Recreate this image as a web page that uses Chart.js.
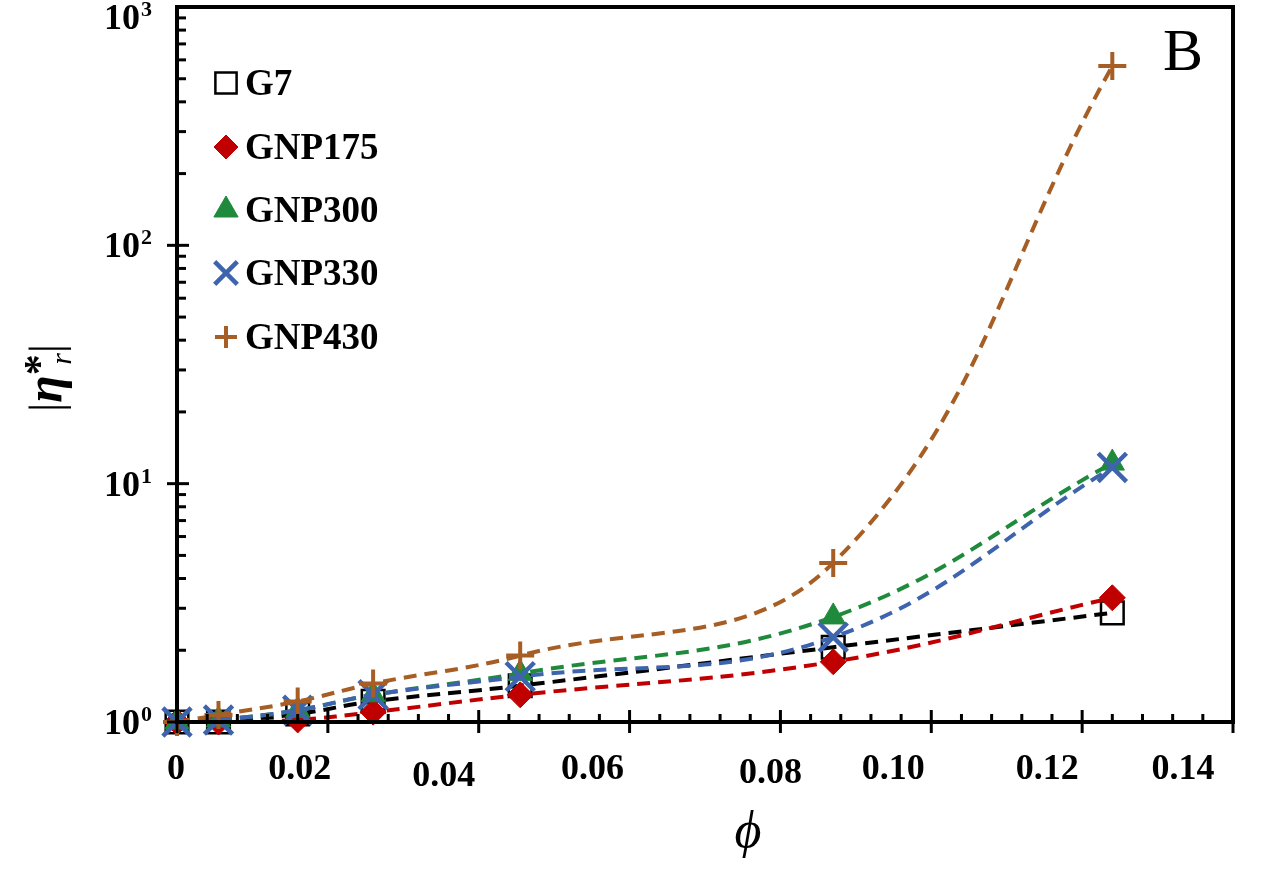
<!DOCTYPE html>
<html>
<head>
<meta charset="utf-8">
<script src="https://cdn.jsdelivr.net/npm/chart.js@4.4.0/dist/chart.umd.min.js"></script>
<style>
  html, body { margin: 0; padding: 0; background: #fff; }
  #wrap { width: 1272px; height: 875px; position: relative; }
</style>
</head>
<body>
<div id="wrap"><canvas id="viscChart"></canvas></div>
<script>
// filler volume fraction
const phi = [0, 0.0055, 0.016, 0.026, 0.0455, 0.087, 0.124];

// relative complex viscosity |eta*_r| for each sample
const g7     = [1.00, 1.00, 1.08, 1.22, 1.42, 2.06, 2.87];
const gnp175 = [1.00, 1.00, 1.02, 1.10, 1.30, 1.79, 3.32];
const gnp300 = [1.00, 1.02, 1.12, 1.30, 1.60, 2.76, 12.2];
const gnp330 = [1.00, 1.02, 1.12, 1.30, 1.55, 2.27, 11.7];
const gnp430 = [1.00, 1.07, 1.22, 1.45, 1.90, 4.65, 565];

const seriesNames = ['G7', 'GNP175', 'GNP300', 'GNP330', 'GNP430'];
const seriesValues = [g7, gnp175, gnp300, gnp330, gnp430];

const xTickValues = [0, 0.02, 0.04, 0.06, 0.08, 0.10, 0.12, 0.14];
const xTickLabels = ['0', '0.02', '0.04', '0.06', '0.08', '0.10', '0.12', '0.14'];
const yDecades = [0, 1, 2, 3];

// marker look per series (Excel style)
const looks = [
  { color: '#000000', style: 'rect',     r: 16, lr: 15, fill: 'rgba(0,0,0,0)', bw: 2.5 },
  { color: '#c00000', style: 'rectRot',  r: 13, lr: 12, fill: '#c00000', bw: 1 },
  { color: '#1f8a3c', style: 'triangle', r: 14, lr: 14, fill: '#1f8a3c', bw: 1 },
  { color: '#3d64ad', style: 'crossRot', r: 20, lr: 16, fill: '#3d64ad', bw: 4.5 },
  { color: '#a65e24', style: 'cross',    r: 14, lr: 11, fill: '#a65e24', bw: 4 }
];

// labels were hand-nudged in the original figure
const xLabelNudge = [[-1, 0], [-28, 0], [-35, 7], [-37, 0], [-10, 4], [-38, 0], [-35, 0], [-50, 0]];

const SERIF = '"Liberation Serif", "Times New Roman", serif';

const frame = {
  id: 'frame',
  afterDraw(chart) {
    const ctx = chart.ctx;
    const a = chart.chartArea;
    const x = chart.scales.x, y = chart.scales.y;
    ctx.save();
    ctx.strokeStyle = '#000';
    ctx.fillStyle = '#000';

    // box
    ctx.lineWidth = 4;
    ctx.strokeRect(a.left, a.top, a.right - a.left, a.bottom - a.top);

    // y ticks (inward, decades cross the axis)
    ctx.lineWidth = 3;
    for (let p = 0; p < 3; p++) {
      for (let m = 1; m < 10; m++) {
        const py = y.getPixelForValue(m * Math.pow(10, p));
        ctx.beginPath();
        if (m === 1) { ctx.moveTo(a.left - 10, py); ctx.lineTo(a.left + 12, py); }
        else { ctx.moveTo(a.left, py); ctx.lineTo(a.left + 9, py); }
        ctx.stroke();
      }
    }

    // x ticks every 0.004, major every 0.02
    for (let i = 0; i <= 35; i++) {
      const px = x.getPixelForValue(i * 0.004);
      ctx.beginPath();
      if (i % 5 === 0) { ctx.moveTo(px, a.bottom - 12); ctx.lineTo(px, a.bottom + 11); }
      else { ctx.moveTo(px, a.bottom - 8); ctx.lineTo(px, a.bottom); }
      ctx.stroke();
    }

    // x tick labels
    ctx.font = 'bold 36px ' + SERIF;
    ctx.textAlign = 'center';
    ctx.textBaseline = 'alphabetic';
    xTickValues.forEach((v, i) => {
      const n = xLabelNudge[i];
      ctx.fillText(xTickLabels[i], x.getPixelForValue(v) + n[0], a.bottom + 57 + n[1]);
    });

    // y tick labels 10^k
    yDecades.forEach(k => {
      let py = y.getPixelForValue(Math.pow(10, k));
      py = Math.max(py, a.top + 10);
      ctx.font = 'bold 36px ' + SERIF;
      ctx.textAlign = 'right';
      ctx.fillText('10', a.left - 37, py + 12);
      ctx.font = 'bold 22px ' + SERIF;
      ctx.textAlign = 'left';
      ctx.fillText(String(k), a.left - 36, py - 1);
    });

    // x title
    ctx.font = 'italic 52px ' + SERIF;
    ctx.textAlign = 'center';
    ctx.fillText('\u03D5', (a.left + a.right) / 2 + 43, a.bottom + 125);

    // panel letter
    ctx.font = '60px ' + SERIF;
    ctx.textAlign = 'left';
    ctx.fillText('B', a.right - 70, a.top + 63);

    // y title |eta*_r|, rotated
    ctx.save();
    ctx.translate(46, 378);
    ctx.rotate(-Math.PI / 2);
    const parts = [
      ['|', '46px ' + SERIF, 0],
      ['\u03B7', 'bold italic 50px ' + SERIF, 0],
      ['*', 'bold 42px ' + SERIF, -8],
      ['r', 'italic 30px ' + SERIF, 10],
      ['|', '46px ' + SERIF, 0]
    ];
    let total = 0;
    parts.forEach(pt => { ctx.font = pt[1]; pt.push(ctx.measureText(pt[0]).width); total += pt[3]; });
    total -= parts[2][3] * 0.5;
    let cx = -total / 2;
    ctx.textAlign = 'left';
    parts.forEach((pt, i) => {
      ctx.font = pt[1];
      if (i === 3) cx -= parts[2][3] * 0.5;
      ctx.fillText(pt[0], cx, 15 + pt[2]);
      cx += pt[3];
    });
    ctx.restore();

    // legend
    const rowY = [83, 147, 210, 273, 337];
    seriesNames.forEach((name, i) => {
      const lk = looks[i];
      ctx.fillStyle = lk.fill;
      ctx.strokeStyle = lk.color;
      ctx.lineWidth = lk.bw;
      Chart.helpers.drawPoint(ctx, { pointStyle: lk.style, radius: lk.lr, rotation: 0, borderWidth: lk.bw }, a.left + 49, rowY[i]);
      ctx.fillStyle = '#000';
      ctx.font = 'bold 37px ' + SERIF;
      ctx.textAlign = 'left';
      ctx.fillText(name, a.left + 68, rowY[i] + 12);
    });

    ctx.restore();
  }
};

const datasets = seriesValues.map((vals, i) => ({
  label: seriesNames[i],
  data: phi.map((p, j) => ({ x: p, y: vals[j] })),
  borderColor: looks[i].color,
  borderWidth: 4,
  borderDash: [13, 8],
  tension: 0.4,
  pointStyle: looks[i].style,
  pointRadius: looks[i].r,
  pointBackgroundColor: looks[i].fill,
  pointBorderColor: looks[i].color,
  pointBorderWidth: looks[i].bw,
  order: seriesNames.length - i,
  clip: false
}));

new Chart(document.getElementById('viscChart'), {
  type: 'line',
  data: { datasets: datasets },
  options: {
    responsive: true,
    maintainAspectRatio: false,
    devicePixelRatio: 1,
    animation: false,
    layout: { autoPadding: false, padding: { top: 7, right: 39, left: 0, bottom: 0 } },
    plugins: { legend: { display: false }, tooltip: { enabled: false } },
    scales: {
      x: {
        type: 'linear', min: 0, max: 0.14,
        grid: { display: false }, border: { display: false },
        ticks: { display: false },
        afterFit: s => { s.height = 153; }
      },
      y: {
        type: 'logarithmic', min: 1, max: 1000,
        grid: { display: false }, border: { display: false },
        ticks: { display: false },
        afterFit: s => { s.width = 177; }
      }
    }
  },
  plugins: [frame]
});
</script>
</body>
</html>
